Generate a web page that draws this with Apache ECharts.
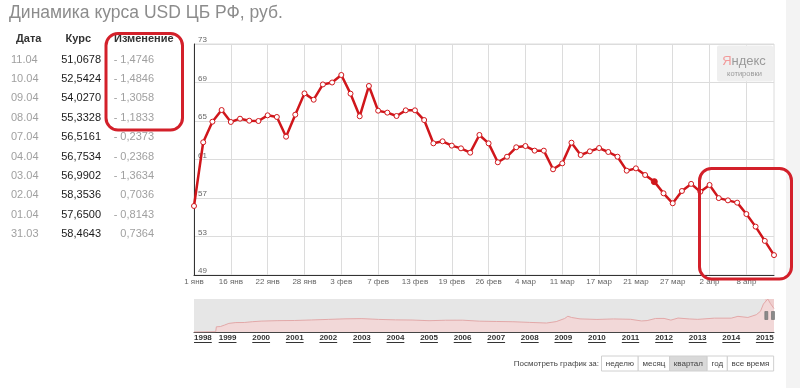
<!DOCTYPE html>
<html><head><meta charset="utf-8">
<script src="https://cdn.jsdelivr.net/npm/echarts@6/dist/echarts.min.js"></script>
<style>html,body{margin:0;padding:0;background:#fff;}#c{width:800px;height:388px;}</style>
</head><body><div id="c"></div>
<script>
// ---------- data ----------
const titleText = 'Динамика курса USD ЦБ РФ, руб.';
const tableHeaders = ['Дата', 'Курс', 'Изменение'];
const tableDates = ['11.04','10.04','09.04','08.04','07.04','04.04','03.04','02.04','01.04','31.03'];

const categories = ['1 янв','13 янв','14 янв','15 янв','16 янв','17 янв','20 янв','21 янв','22 янв','23 янв',
  '24 янв','27 янв','28 янв','29 янв','30 янв','31 янв','3 фев','4 фев','5 фев','6 фев',
  '7 фев','10 фев','11 фев','12 фев','13 фев','14 фев','17 фев','18 фев','19 фев','20 фев',
  '21 фев','25 фев','26 фев','27 фев','28 фев','3 мар','4 мар','5 мар','6 мар','7 мар',
  '11 мар','12 мар','13 мар','14 мар','17 мар','18 мар','19 мар','20 мар','21 мар','24 мар',
  '25 мар','26 мар','27 мар','28 мар','31 мар','1 апр','2 апр','3 апр','4 апр','7 апр',
  '8 апр','9 апр','10 апр','11 апр'];
const rates = [56.17,62.79,64.93,66.14,64.90,65.24,65.03,65.00,65.59,65.42,
  63.37,65.66,67.87,67.21,68.80,69.00,69.78,67.84,65.49,68.64,
  66.07,65.87,65.52,66.11,66.11,65.10,62.68,62.89,62.44,62.16,
  61.71,63.55,62.68,60.71,61.29,62.27,62.40,61.92,61.92,59.98,
  60.60,62.75,61.47,61.85,62.19,61.78,61.29,59.84,60.08,59.39,
  58.70,57.49,56.45,57.7279,58.4643,57.6500,58.3536,56.9902,56.7534,56.5161,
  55.3328,54.0270,52.5424,51.0678];
const highlightIndex = 50;
const yMin = 49, yMax = 73, yStep = 4;

const historyDates = ['1998-01-01','1998-08-25','1998-09-01','1998-10-15','1998-12-01',
  '1999-01-15','1999-04-01','1999-07-01','1999-10-01','2000-01-01','2000-07-01',
  '2001-01-01','2001-07-01','2002-01-01','2002-07-01','2003-01-01','2003-07-01',
  '2004-01-01','2004-07-01','2005-01-01','2005-07-01','2006-01-01','2006-07-01',
  '2007-01-01','2007-07-01','2008-01-01','2008-07-01','2008-10-15','2009-01-15',
  '2009-02-19','2009-04-01','2009-07-01','2010-01-01','2010-07-01','2011-01-01',
  '2011-05-01','2011-07-01','2011-10-01','2012-01-01','2012-03-15','2012-06-01',
  '2012-10-01','2013-01-01','2013-07-01','2014-01-01','2014-03-15','2014-07-01',
  '2014-10-01','2014-11-15','2014-12-17','2015-01-01','2015-02-03','2015-03-01','2015-04-11'];
const historyValues = [5.96,6.5,16.0,16.5,19.5,
  22.6,24.2,24.3,25.9,27.0,27.9,
  28.2,29.2,30.3,31.4,31.8,30.3,
  29.4,29.1,27.8,28.7,28.8,26.9,
  26.3,25.8,24.5,23.3,26.0,32.0,
  36.4,34.0,31.3,30.2,31.2,30.5,
  27.3,28.0,32.1,32.2,28.9,32.9,
  31.2,30.4,32.7,32.7,36.2,34.0,
  39.4,46.0,60.0,56.3,69.7,61.5,51.1];
const historyYears = [1998,1999,2000,2001,2002,2003,2004,2005,2006,2007,2008,2009,2010,2011,2012,2013,2014,2015];
const selectionStart = '2015-01-01';
const selectionEnd = '2015-04-11';

const periodLabel = 'Посмотреть график за:';
const periodButtons = ['неделю','месяц','квартал','год','все время'];
const activeButton = 'квартал';
const logoMain = ['Я', 'ндекс'];
const logoSub = 'котировки';

// ---------- helpers ----------
const FONT = '"Liberation Sans", Arial, sans-serif';
const LINE = '#d0161b';
function toYear(d) {
  const p = d.split('-').map(Number);
  const t = Date.UTC(p[0], p[1] - 1, p[2]), s = Date.UTC(p[0], 0, 1), e = Date.UTC(p[0] + 1, 0, 1);
  return p[0] + (t - s) / (e - s);
}
function fmt(v) {
  const s = Math.abs(v).toFixed(4).replace('.', ',');
  return v < 0 ? '- ' + s : s;
}
const mctx = document.createElement('canvas').getContext('2d');
function measure(t, font) { mctx.font = font; return mctx.measureText(t).width; }
function txt(x, y, text, font, fill, align, valign, z) {
  return { type: 'text', x: x, y: y, z: z || 10, silent: true,
    style: { text: text, font: font, fill: fill, textFill: fill,
      align: align || 'left', textAlign: align || 'left',
      verticalAlign: valign || 'middle', textVerticalAlign: valign || 'middle' } };
}

const chart = echarts.init(document.getElementById('c'), null, { renderer: 'canvas' });

const histMin = Math.min.apply(null, historyValues), histMax = Math.max.apply(null, historyValues);
const histMid = (histMin + histMax) / 2;

const option = {
  animation: false,
  textStyle: { fontFamily: FONT },
  grid: [
    { left: 194, top: 44, width: 580, height: 231, show: true, borderColor: '#dcdcdc', borderWidth: 1, backgroundColor: 'transparent' },
    { left: 194, top: 299, width: 580, height: 33, show: true, borderWidth: 0, backgroundColor: '#e6e6e6' }
  ],
  xAxis: [
    { type: 'category', gridIndex: 0, data: categories, boundaryGap: false,
      axisLine: { lineStyle: { color: '#333', width: 1 } },
      axisTick: { show: false },
      axisLabel: { interval: 3, color: '#666', fontSize: 8, margin: 3, fontFamily: FONT },
      splitLine: { show: true, interval: 3, lineStyle: { color: '#dcdcdc', width: 1 } } },
    { type: 'value', gridIndex: 1, min: historyYears[0], max: toYear(selectionEnd), interval: 1,
      axisLine: { lineStyle: { color: '#444', width: 1 } },
      axisTick: { show: false }, splitLine: { show: false },
      axisLabel: { color: '#333', fontSize: 8, fontWeight: 'bold', margin: 2, fontFamily: FONT,
        alignMinLabel: 'left', showMinLabel: true,
        formatter: function (v) { return historyYears.indexOf(Math.round(v * 1000) / 1000) >= 0 ? String(Math.round(v)) : ''; } } }
  ],
  yAxis: [
    { type: 'value', gridIndex: 0, min: yMin, max: yMax, interval: yStep,
      axisLine: { show: true, lineStyle: { color: '#333', width: 1 } },
      axisTick: { show: false },
      axisLabel: { inside: true, verticalAlign: 'bottom', margin: 4, color: '#666', fontSize: 8, fontFamily: FONT },
      splitLine: { lineStyle: { color: '#dcdcdc', width: 1 } } },
    { type: 'value', gridIndex: 1, show: false, min: 'dataMin', max: 'dataMax' }
  ],
  series: [
    { type: 'line', xAxisIndex: 0, yAxisIndex: 0,
      data: rates.map(function (v, i) {
        return i === highlightIndex ? { value: v, symbolSize: 6, itemStyle: { color: LINE, borderColor: LINE } } : v;
      }),
      symbol: 'circle', symbolSize: 5, showAllSymbol: true,
      lineStyle: { color: LINE, width: 2.5 },
      itemStyle: { color: '#fff', borderColor: LINE, borderWidth: 1 },
      z: 3 },
    { type: 'line', xAxisIndex: 1, yAxisIndex: 1,
      data: historyDates.map(function (d, i) { return [toYear(d), historyValues[i]]; }),
      symbol: 'none', lineStyle: { color: '#e2a8a8', width: 1 },
      areaStyle: { color: '#f2d8d8', opacity: 1 },
      markArea: { silent: true, itemStyle: { color: 'rgba(250,180,180,0.45)' },
        data: [[{ xAxis: toYear(selectionStart) }, { xAxis: toYear(selectionEnd) }]] },
      markPoint: { silent: true, symbol: 'rect', symbolSize: [3, 8], label: { show: false },
        itemStyle: { color: '#8a8a8a', borderColor: '#666', borderWidth: 0.5 },
        data: [
          { coord: [toYear(selectionStart), histMid], symbolOffset: [1.5, 0] },
          { coord: [toYear(selectionEnd), histMid], symbolOffset: [-1, 0] }
        ] } }
  ]
};
chart.setOption(option);

// ---------- decorations ----------
const g = [];
g.push({ type: 'rect', z: 1, silent: true, shape: { x: 786, y: 0, width: 14, height: 388 }, style: { fill: '#f3f3f3' } });
g.push(txt(9, 13, titleText, '17.5px ' + FONT, '#8c8c8c'));

// table
const HB = 'bold 11px ' + FONT, RF = '11px ' + FONT;
g.push(txt(16, 39, tableHeaders[0], HB, '#333'));
g.push(txt(65.5, 39, tableHeaders[1], HB, '#333'));
g.push(txt(114, 39, tableHeaders[2], HB, '#333'));
tableDates.forEach(function (d, i) {
  const idx = rates.length - 1 - i;
  const y = 59.5 + i * 19.4;
  g.push(txt(11, y, d, RF, '#a0a0a0'));
  g.push(txt(101, y, rates[idx].toFixed(4).replace('.', ','), RF, '#1a1a1a', 'right'));
  g.push(txt(154, y, fmt(rates[idx] - rates[idx - 1]), RF, '#a0a0a0', 'right'));
});

// yandex logo
g.push({ type: 'rect', z: 5, silent: true, shape: { x: 717, y: 45.5, width: 56, height: 36, r: 2 }, style: { fill: '#efefef' } });
const LF = '13px ' + FONT;
const w1 = measure(logoMain[0], LF), w2 = measure(logoMain[1], LF);
const lx = 744 - (w1 + w2) / 2;
g.push(txt(lx, 61, logoMain[0], LF, '#f29a9a', 'left', 'middle', 6));
g.push(txt(lx + w1, 61, logoMain[1], LF, '#9a9a9a', 'left', 'middle', 6));
g.push(txt(744.5, 73.5, logoSub, '7.5px ' + FONT, '#9a9a9a', 'center', 'middle', 6));

// period buttons
const BF = '8px ' + FONT;
g.push(txt(599, 363.5, periodLabel, BF, '#444', 'right'));
let bx = 601.5;
periodButtons.forEach(function (b) {
  const w = measure(b, BF) + 8.5;
  g.push({ type: 'rect', z: 5, silent: true, shape: { x: bx, y: 356, width: w, height: 15 },
    style: { fill: b === activeButton ? '#d9d9d9' : '#fff', stroke: '#d0d0d0', lineWidth: 1 } });
  g.push(txt(bx + w / 2, 363.5, b, BF, '#444', 'center', 'middle', 6));
  bx += w;
});

// year label underlines
const YF = 'bold 8px ' + FONT;
historyYears.forEach(function (yr, i) {
  const px = chart.convertToPixel({ xAxisIndex: 1 }, yr);
  const w = measure(String(yr), YF);
  const x0 = i === 0 ? px : px - w / 2;
  g.push({ type: 'line', z: 5, silent: true, shape: { x1: x0, y1: 342.5, x2: x0 + w, y2: 342.5 },
    style: { stroke: '#333', lineWidth: 1 } });
});

// red annotation frames
g.push({ type: 'rect', z: 100, silent: true, shape: { x: 106, y: 33.5, width: 76.5, height: 96.5, r: 12 },
  style: { fill: 'none', stroke: '#d3202a', lineWidth: 3 } });
g.push({ type: 'rect', z: 100, silent: true, shape: { x: 699.5, y: 168.5, width: 92, height: 110.5, r: 12 },
  style: { fill: 'none', stroke: '#d3202a', lineWidth: 3 } });

chart.setOption({ graphic: { elements: g } });
</script>
</body></html>
